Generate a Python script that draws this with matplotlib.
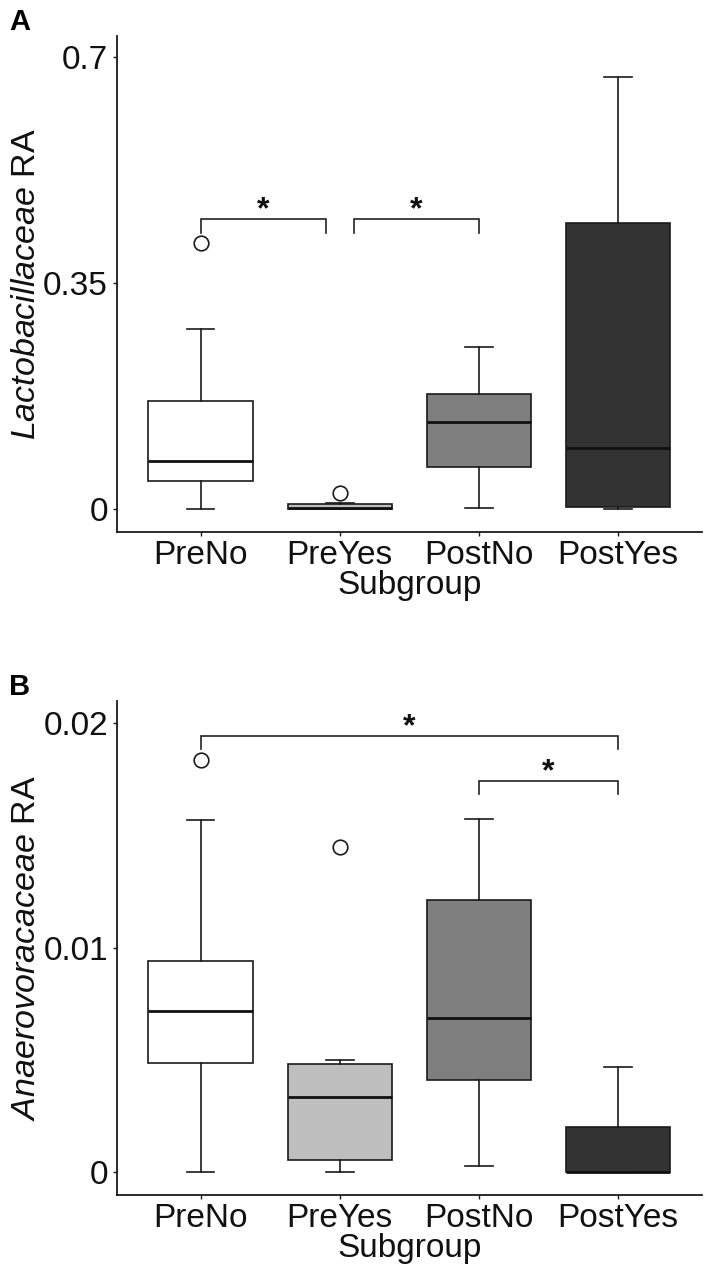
import matplotlib
matplotlib.use("Agg")
import matplotlib.pyplot as plt

plt.rcParams['font.family'] = ['Liberation Sans', 'DejaVu Sans']
plt.rcParams['mathtext.fontset'] = 'custom'
plt.rcParams['mathtext.rm'] = 'Liberation Sans'
plt.rcParams['mathtext.it'] = 'Liberation Sans:italic'
plt.rcParams['mathtext.bf'] = 'Liberation Sans:bold'

categories = ["PreNo", "PreYes", "PostNo", "PostYes"]
fill_colors = ["#FFFFFF", "#BEBEBE", "#7F7F7F", "#333333"]

# Panel A: Lactobacillaceae RA
A_whislo = [0.0, 0.0, 0.0015, 0.0]
A_q1 = [0.0424, 0.0003, 0.064, 0.003]
A_med = [0.0739, 0.0012, 0.134, 0.0945]
A_q3 = [0.167, 0.0075, 0.178, 0.443]
A_whishi = [0.278, 0.0085, 0.250, 0.668]
A_fliers = [[0.411], [0.0238], [], []]
A_ticks = [0, 0.35, 0.7]
A_ticklabels = ["0", "0.35", "0.7"]
A_comparisons = [(1, 1.9, 0.448), (2.1, 3, 0.448)]

# Panel B: Anaerovoracaceae RA
B_whislo = [0.0, 0.0, 0.00027, 0.0]
B_q1 = [0.00488, 0.00053, 0.00409, 0.0]
B_med = [0.00719, 0.00335, 0.00686, 0.0]
B_q3 = [0.00941, 0.00483, 0.0121, 0.00201]
B_whishi = [0.01569, 0.00501, 0.0157, 0.0047]
B_fliers = [[0.01834], [0.01446], [], []]
B_ticks = [0, 0.01, 0.02]
B_ticklabels = ["0", "0.01", "0.02"]
B_comparisons = [(1, 4, 0.0194), (3, 4, 0.01741)]

W, H = 709, 1276
fig = plt.figure(figsize=(W / 100, H / 100), dpi=100)

FSX = 24
FSY = 24
FSLAB = 24.5
LW = 1.2


def panel(rect, whislo, q1, med, q3, whishi, fliers, ticks, ticklabels,
          ylim, comps, tip, ylabel_italic, letter, letter_y):
    ax = fig.add_axes(rect)
    stats = []
    for i, c in enumerate(categories):
        stats.append(dict(label=c, whislo=whislo[i], q1=q1[i], med=med[i],
                          q3=q3[i], whishi=whishi[i], fliers=fliers[i]))
    bp = ax.bxp(stats, positions=range(1, len(categories) + 1), widths=0.75,
                capwidths=0.2, patch_artist=True, showfliers=True,
                boxprops=dict(linewidth=LW, edgecolor="#1a1a1a"),
                medianprops=dict(linewidth=2.0, color="#111111"),
                whiskerprops=dict(linewidth=LW, color="#1a1a1a"),
                capprops=dict(linewidth=LW, color="#1a1a1a"),
                flierprops=dict(marker='o', markerfacecolor='white',
                                markeredgecolor='#1a1a1a', markersize=10.5,
                                markeredgewidth=1.2, linestyle='none'))
    for patch, col in zip(bp['boxes'], fill_colors):
        patch.set_facecolor(col)
    ax.set_xlim(0.4, 4.6)
    ax.set_ylim(*ylim)
    ax.set_yticks(ticks)
    ax.set_yticklabels(ticklabels)
    ax.set_xticks(range(1, len(categories) + 1))
    ax.set_xticklabels(categories)
    for s in ['top', 'right']:
        ax.spines[s].set_visible(False)
    for s in ['left', 'bottom']:
        ax.spines[s].set_linewidth(1.3)
        ax.spines[s].set_color('#1a1a1a')
    ax.tick_params(axis='both', length=3, width=1.0,
                   colors='#1a1a1a', labelcolor='#111111')
    ax.tick_params(axis='x', labelsize=FSX, pad=3)
    ax.tick_params(axis='y', labelsize=FSY, pad=3.5)
    ax.set_xlabel("Subgroup", fontsize=FSX, labelpad=-1, color='#111111')
    ax.set_ylabel(ylabel_italic + " RA", fontsize=FSLAB, labelpad=1, color='#111111')
    # significance brackets
    for x0, x1, y in comps:
        ax.plot([x0, x0, x1, x1], [y - tip, y, y, y - tip], color='#222222',
                linewidth=LW, solid_joinstyle='miter', clip_on=False)
        ax.annotate("*", xy=((x0 + x1) / 2, y), xytext=(0, -4.5),
                    textcoords='offset points', ha='center', va='bottom',
                    fontsize=23, fontweight='bold', color='#111111')
    fig.text(9 / W, 1 - letter_y / H, letter, fontsize=21, fontweight='bold',
             ha='left', va='baseline')
    return ax


axA = panel([117 / W, 1 - 531.7 / H, 584.7 / W, 495.7 / H],
            A_whislo, A_q1, A_med, A_q3, A_whishi, A_fliers, A_ticks, A_ticklabels,
            (-0.0356, 0.732), A_comparisons, 0.021, "$\\it{Lactobacillaceae}$", "A", 30)
axB = panel([117 / W, 1 - 1195 / H, 584.7 / W, 494.3 / H],
            B_whislo, B_q1, B_med, B_q3, B_whishi, B_fliers, B_ticks, B_ticklabels,
            (-0.00101, 0.02098), B_comparisons, 0.00057, "$\\it{Anaerovoracaceae}$", "B", 695)

fig.savefig("out.png", dpi=100)
